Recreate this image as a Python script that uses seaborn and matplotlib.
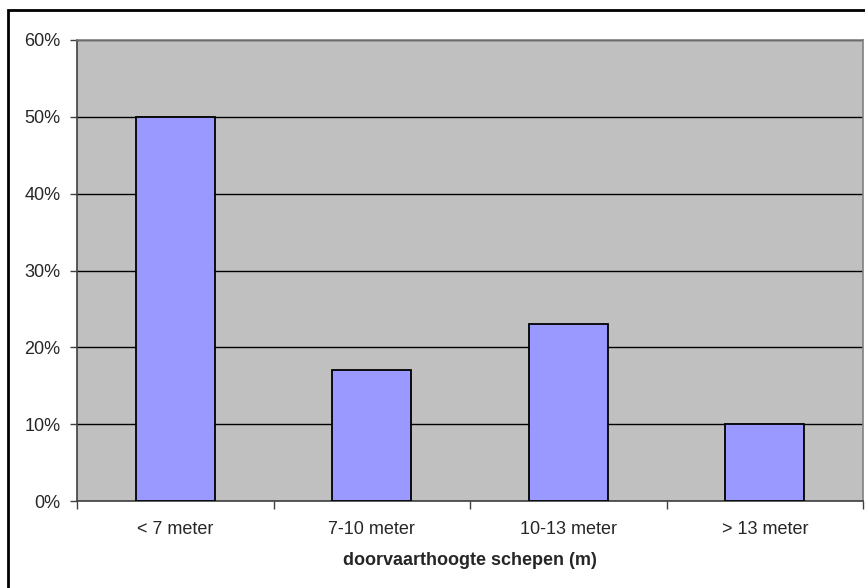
import matplotlib
matplotlib.use("Agg")
import matplotlib.pyplot as plt
from matplotlib.patches import Rectangle
from matplotlib.ticker import FuncFormatter, FixedLocator
import seaborn as sns
import pandas as pd

categories = ["< 7 meter", "7-10 meter", "10-13 meter", "> 13 meter"]
shares = [50, 17, 23, 10]
y_ticks = [0, 10, 20, 30, 40, 50, 60]
x_title = "doorvaarthoogte schepen (m)"

sns.set_style("white")
plt.rcParams["font.family"] = ["Liberation Sans", "DejaVu Sans"]

df = pd.DataFrame({"klasse": categories, "aandeel": shares})

fig = plt.figure(figsize=(8.65, 5.88), dpi=100)
ax = fig.add_axes([77 / 865, 87 / 588, 786 / 865, 461 / 588])
ax.set_facecolor("#C0C0C0")

sns.barplot(data=df, x="klasse", y="aandeel", color="#9999FF", width=0.4,
            edgecolor="black", linewidth=1.3, saturation=1, ax=ax, zorder=3)

ax.set_xlim(-0.5, len(categories) - 0.5)
ax.set_ylim(0, 60)
ax.set_yticks(y_ticks)
ax.yaxis.set_major_formatter(FuncFormatter(lambda v, p: f"{v:.0f}%"))
ax.grid(axis="y", color="black", linewidth=1.0, zorder=1)
ax.set_axisbelow(True)

# category boundaries carry the tick marks, labels sit at the centres
ax.xaxis.set_major_locator(FixedLocator([i - 0.5 for i in range(len(categories) + 1)]))
ax.xaxis.set_minor_locator(FixedLocator(list(range(len(categories)))))
ax.set_xticklabels([""] * (len(categories) + 1))
ax.set_xticklabels(categories, minor=True)
ax.tick_params(axis="x", which="major", direction="out", length=6, width=1, color="#404040", bottom=True)
ax.tick_params(axis="x", which="minor", length=0, pad=14.5, labelsize=13, bottom=True)
ax.tick_params(axis="y", direction="out", length=5, width=1, color="#404040", pad=7, labelsize=13, left=True)

ax.set_xlabel(x_title, fontsize=13, fontweight="bold", labelpad=10)
ax.set_ylabel("")

for side in ["top", "right"]:
    ax.spines[side].set_color("#808080")
    ax.spines[side].set_linewidth(1.2)
for side in ["left", "bottom"]:
    ax.spines[side].set_color("#404040")
    ax.spines[side].set_linewidth(1.2)

# chart frame
fig.patches.append(Rectangle((8 / 865, -0.1), 1.0, (588 - 10) / 588 + 0.1,
                             transform=fig.transFigure, fill=False,
                             edgecolor="black", linewidth=2, zorder=10))

fig.savefig("out.png", dpi=100, facecolor="white")
